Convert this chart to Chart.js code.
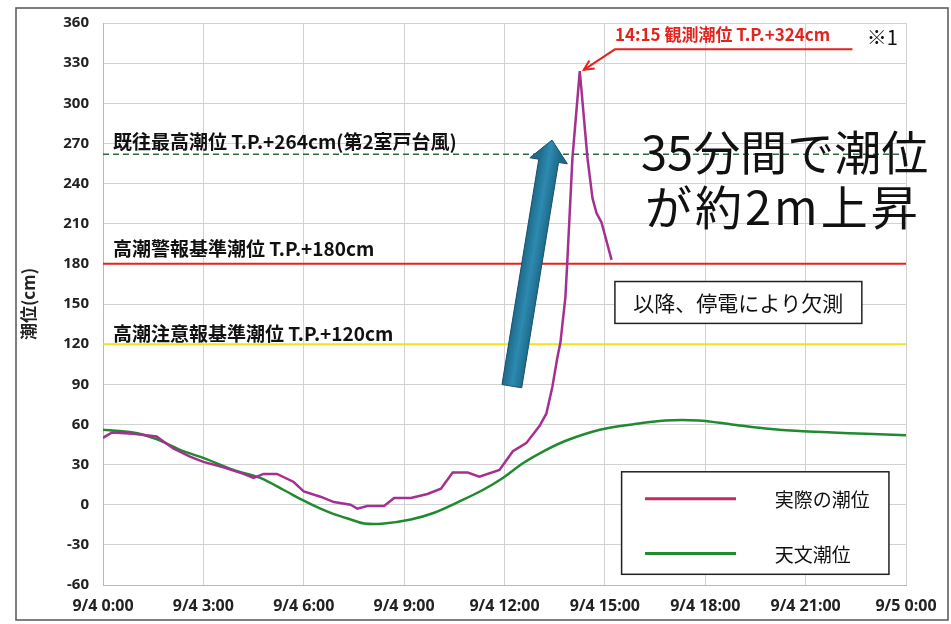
<!DOCTYPE html>
<html>
<head>
<meta charset="utf-8">
<script src="https://cdn.jsdelivr.net/npm/chart.js@4.4.1/dist/chart.umd.min.js"></script>
<style>
  html, body { margin: 0; padding: 0; background: #fff; }
  #wrap { width: 951px; height: 624px; }
</style>
</head>
<body>
<div id="wrap"><canvas id="tideChart"></canvas></div>
<script>
// x axis is hours from 9/4 0:00
const xTickLabels = ['9/4 0:00', '9/4 3:00', '9/4 6:00', '9/4 9:00', '9/4 12:00', '9/4 15:00', '9/4 18:00', '9/4 21:00', '9/5 0:00'];
const yMin = -60, yMax = 360, yStep = 30;

// 実際の潮位 (observed, stops at power failure)
const actualHours = [0, 0.27, 0.9, 1.6, 2.1, 2.6, 3.0, 3.6, 4.2, 4.5, 4.8, 5.2, 5.7, 6.0, 6.5, 6.9, 7.4, 7.6, 7.9, 8.4,
                     8.7, 9.2, 9.7, 10.1, 10.45, 10.9, 11.25, 11.85, 12.25, 12.65, 13.05, 13.25, 13.43, 13.58, 13.67, 13.82, 13.88, 14.03, 14.25, 14.48,
                     14.63, 14.75, 14.9, 15.2];
const actualLevels = [50, 54, 53, 51, 42, 36, 32, 28, 23, 20, 23, 23, 17, 10, 6, 2, 0, -3, -1, -1,
                      5, 5, 8, 12, 24, 24, 21, 26, 40, 46, 59, 68, 88, 110, 121, 155, 183, 259, 324, 259,
                      229, 218, 211, 183];

// 天文潮位 (astronomical tide)
const astroHours = [0, 0.9, 1.6, 2.4, 3.0, 3.9, 4.7, 5.4, 6.0, 6.5, 6.9, 7.4, 7.8, 8.4, 9.2, 9.9, 10.7, 11.35, 11.95, 12.55,
                    13.25, 13.85, 14.85, 15.8, 16.8, 17.8, 18.8, 19.8, 20.8, 21.8, 22.8, 24];
const astroLevels = [56, 54, 49, 40, 35, 26, 20, 11, 3, -3, -7, -11, -14, -14, -11, -6, 3, 11, 20, 31,
                     41, 48, 56, 60, 63, 63, 60, 57, 55, 54, 53, 52];

// reference levels: 既往最高, 高潮警報基準, 高潮注意報基準
const recordLevel = 262;
const warningLevel = 180;
const advisoryLevel = 120;

const peakTime = 14.25;
const peakLevel = 324;

function toPoints(xs, ys) {
    return xs.map((x, i) => ({ x: x, y: ys[i] }));
}
function flatLine(level) {
    return [{ x: 0, y: level }, { x: 24, y: level }];
}

const jpFont = '"Noto Sans CJK JP", "Noto Sans", sans-serif';

const overlayPlugin = {
    id: 'overlay',
    beforeDraw(chart) {
        const ctx = chart.ctx;
        ctx.save();
        ctx.fillStyle = '#fff';
        ctx.fillRect(0, 0, chart.width, chart.height);
        ctx.restore();
    },
    afterDatasetsDraw(chart) {
        const ctx = chart.ctx;
        const xs = chart.scales.x, ys = chart.scales.y;
        const px = h => xs.getPixelForValue(h);
        const py = v => ys.getPixelForValue(v);

        // big blue arrow
        const bx = px(12.22), by = py(88.6);
        const tx = px(13.42), ty = py(272.5);
        let dx = tx - bx, dy = ty - by;
        const len = Math.hypot(dx, dy);
        dx /= len; dy /= len;
        const nx = -dy, ny = dx;
        const headLen = 21, shaft = 10, head = 19;
        const hx = tx - dx * headLen, hy = ty - dy * headLen;
        const grad = ctx.createLinearGradient(bx + nx * shaft, by + ny * shaft, bx - nx * shaft, by - ny * shaft);
        grad.addColorStop(0, '#1e6b8c');
        grad.addColorStop(0.5, '#2d8ab0');
        grad.addColorStop(1, '#1e6b8c');
        ctx.save();
        ctx.beginPath();
        ctx.moveTo(bx + nx * shaft, by + ny * shaft);
        ctx.lineTo(hx + nx * shaft, hy + ny * shaft);
        ctx.lineTo(hx + nx * head, hy + ny * head);
        ctx.lineTo(tx, ty);
        ctx.lineTo(hx - nx * head, hy - ny * head);
        ctx.lineTo(hx - nx * shaft, hy - ny * shaft);
        ctx.lineTo(bx - nx * shaft, by - ny * shaft);
        ctx.closePath();
        ctx.fillStyle = grad;
        ctx.fill();
        ctx.strokeStyle = '#16506b';
        ctx.lineWidth = 1;
        ctx.stroke();
        ctx.restore();
    },
    afterDraw(chart) {
        const ctx = chart.ctx;
        const xs = chart.scales.x, ys = chart.scales.y;
        const px = h => xs.getPixelForValue(h);
        const py = v => ys.getPixelForValue(v);

        ctx.save();
        ctx.textBaseline = 'middle';
        ctx.textAlign = 'left';

        // threshold labels
        ctx.fillStyle = '#111';
        ctx.font = 'bold 19px ' + jpFont;
        ctx.fillText('既往最高潮位 T.P.+264cm(第2室戸台風)', px(0.3), py(271), 355);
        ctx.fillText('高潮警報基準潮位 T.P.+180cm', px(0.3), py(191), 270);
        ctx.fillText('高潮注意報基準潮位 T.P.+120cm', px(0.3), py(128), 287);

        // peak leader line + label
        const red = '#e3231e';
        const tipX = px(peakTime + 0.12), tipY = py(peakLevel + 1);
        const elbX = px(15.3), elbY = py(340.3);
        const endX = px(22.4);
        ctx.strokeStyle = red;
        ctx.lineWidth = 2;
        ctx.beginPath();
        ctx.moveTo(endX, elbY);
        ctx.lineTo(elbX, elbY);
        ctx.lineTo(tipX, tipY);
        ctx.stroke();
        const ang = Math.atan2(tipY - elbY, tipX - elbX);
        ctx.beginPath();
        ctx.moveTo(tipX - 11 * Math.cos(ang - 0.45), tipY - 11 * Math.sin(ang - 0.45));
        ctx.lineTo(tipX, tipY);
        ctx.lineTo(tipX - 11 * Math.cos(ang + 0.45), tipY - 11 * Math.sin(ang + 0.45));
        ctx.stroke();

        ctx.fillStyle = red;
        ctx.font = 'bold 17px ' + jpFont;
        ctx.fillText('14:15 観測潮位 T.P.+324cm', px(15.3), py(351), 240);
        ctx.fillStyle = '#111';
        ctx.font = '20px ' + jpFont;
        ctx.fillText('※1', px(22.83), py(349));

        // big message
        ctx.font = '47px ' + jpFont;
        ctx.fillStyle = '#111';
        ctx.fillText('35分間で潮位', px(16.08), py(263.5));
        ctx.letterSpacing = '3px';
        ctx.fillText('が約2m上昇', px(16.2), py(222.6));
        ctx.letterSpacing = '0px';

        // missing data note box
        const bL = px(15.3), bR = px(22.68), bT = py(166.8), bB = py(135.5);
        ctx.fillStyle = '#fff';
        ctx.fillRect(bL, bT, bR - bL, bB - bT);
        ctx.strokeStyle = '#222';
        ctx.lineWidth = 1.5;
        ctx.strokeRect(bL, bT, bR - bL, bB - bT);
        ctx.fillStyle = '#111';
        ctx.font = '21px ' + jpFont;
        ctx.textAlign = 'center';
        ctx.fillText('以降、停電により欠測', (bL + bR) / 2, (bT + bB) / 2 + 1);

        // legend box
        const lL = px(15.5), lR = px(23.49), lT = py(24.6), lB = py(-52);
        ctx.fillStyle = '#fff';
        ctx.fillRect(lL, lT, lR - lL, lB - lT);
        ctx.strokeStyle = '#222';
        ctx.lineWidth = 1.5;
        ctx.strokeRect(lL, lT, lR - lL, lB - lT);
        ctx.textAlign = 'left';
        ctx.font = '19px ' + jpFont;
        const rows = [py(4.5), py(-36.5)];
        [0, 1].forEach((di, i) => {
            const ds = chart.data.datasets[di];
            ctx.strokeStyle = di === 0 ? '#c42a66' : ds.borderColor;
            ctx.lineWidth = 3;
            ctx.beginPath();
            ctx.moveTo(px(16.2), rows[i]);
            ctx.lineTo(px(18.92), rows[i]);
            ctx.stroke();
            ctx.fillStyle = '#111';
            ctx.fillText(ds.label, px(20.08), rows[i] + 1);
        });

        // outer frame
        ctx.strokeStyle = '#555';
        ctx.lineWidth = 1.5;
        ctx.strokeRect(16, 8, 932, 612);
        ctx.restore();
    }
};

const ctxTide = document.getElementById('tideChart').getContext('2d');
new Chart(ctxTide, {
    type: 'line',
    data: {
        datasets: [
            {
                label: '実際の潮位',
                data: toPoints(actualHours, actualLevels),
                borderColor: '#a4308f',
                borderWidth: 2.5,
                pointRadius: 0,
                tension: 0,
                order: 0
            },
            {
                label: '天文潮位',
                data: toPoints(astroHours, astroLevels),
                borderColor: '#1f8a30',
                borderWidth: 2.5,
                pointRadius: 0,
                tension: 0.3,
                order: 1
            },
            {
                label: '既往最高潮位',
                data: flatLine(recordLevel),
                borderColor: '#2f6a3e',
                borderWidth: 1.5,
                borderDash: [6, 4],
                pointRadius: 0,
                order: 2
            },
            {
                label: '高潮警報基準潮位',
                data: flatLine(warningLevel),
                borderColor: '#e3231e',
                borderWidth: 2,
                pointRadius: 0,
                order: 2
            },
            {
                label: '高潮注意報基準潮位',
                data: flatLine(advisoryLevel),
                borderColor: '#f2e21c',
                borderWidth: 2,
                pointRadius: 0,
                order: 2
            }
        ]
    },
    options: {
        responsive: true,
        maintainAspectRatio: false,
        animation: false,
        layout: { padding: { left: 16, top: 21, right: 45, bottom: 3 } },
        plugins: {
            legend: { display: false },
            tooltip: { enabled: false }
        },
        scales: {
            x: {
                type: 'linear',
                min: 0,
                max: 24,
                afterFit: s => { s.height = 36; },
                ticks: {
                    stepSize: 3,
                    autoSkip: false,
                    maxRotation: 0,
                    padding: 12,
                    color: '#222',
                    font: { family: '"Open Sans", sans-serif', size: 16, weight: 'bold' },
                    callback: v => xTickLabels[v / 3]
                },
                grid: { color: '#d2d2d2', drawTicks: false },
                border: { color: '#b8b8b8' }
            },
            y: {
                min: yMin,
                max: yMax,
                afterFit: s => { s.width = 87; },
                ticks: {
                    stepSize: yStep,
                    padding: 14,
                    color: '#222',
                    font: { family: '"Open Sans", sans-serif', size: 15, weight: 'bold' }
                },
                title: {
                    display: true,
                    text: '潮位(cm)',
                    color: '#222',
                    padding: { top: 2, bottom: 0 },
                    font: { family: jpFont, size: 17, weight: 'bold' }
                },
                grid: { color: '#d2d2d2', drawTicks: false },
                border: { color: '#b8b8b8' }
            }
        }
    },
    plugins: [overlayPlugin]
});
</script>
</body>
</html>
